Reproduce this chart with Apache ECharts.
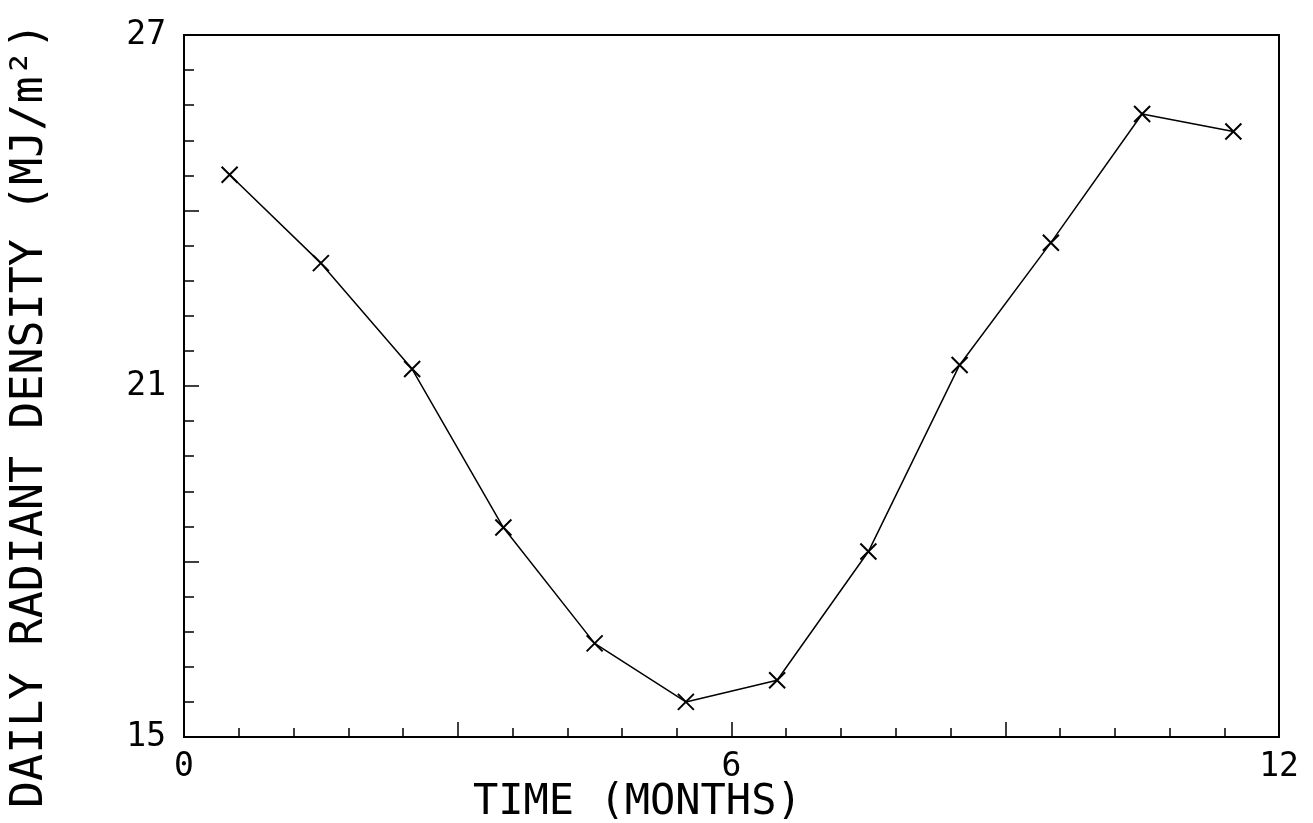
<!DOCTYPE html>
<html>
<head>
<meta charset="utf-8">
<script src="https://cdn.jsdelivr.net/npm/echarts@6/dist/echarts.min.js"></script>
<style>
html,body{margin:0;padding:0;background:#fff;}
#chart{width:1313px;height:823px;}
</style>
</head>
<body>
<div id="chart"></div>
<script>
var months = [0.5, 1.5, 2.5, 3.5, 4.5, 5.5, 6.5, 7.5, 8.5, 9.5, 10.5, 11.5];
var radiant = [24.61, 23.10, 21.29, 18.58, 16.60, 15.60, 15.97, 18.17, 21.36, 23.45, 25.65, 25.35];
var xLabels = [0, 6, 12];
var yLabels = [15, 21, 27];
var xTitle = 'TIME (MONTHS)';
var yTitle = 'DAILY RADIANT DENSITY (MJ/m²)';

var FONT = 'DejaVu Sans Mono';
var chart = echarts.init(document.getElementById('chart'), null, {renderer: 'canvas'});
var pts = months.map(function (m, i) { return [m, radiant[i]]; });

chart.setOption({
  animation: false,
  backgroundColor: '#ffffff',
  grid: {left: 184, right: 34, top: 35, bottom: 86, show: true, borderColor: '#000', borderWidth: 2, backgroundColor: 'transparent'},
  xAxis: {
    type: 'value', min: 0, max: 12, interval: 3,
    axisLine: {show: true, onZero: false, lineStyle: {color: '#000', width: 2}},
    axisTick: {show: true, inside: true, length: 15, lineStyle: {color: '#000', width: 1.5}},
    minorTick: {show: true, splitNumber: 5, length: 9, lineStyle: {color: '#000', width: 1.5}},
    splitLine: {show: false},
    axisLabel: {
      show: true, margin: 14, color: '#000', fontFamily: FONT, fontSize: 33,
      formatter: function (v) { return xLabels.indexOf(v) >= 0 ? String(v) : ''; }
    }
  },
  yAxis: {
    type: 'value', min: 15, max: 27, interval: 3,
    axisLine: {show: true, onZero: false, lineStyle: {color: '#000', width: 2}},
    axisTick: {show: true, inside: true, length: 15, lineStyle: {color: '#000', width: 1.5}},
    minorTick: {show: true, splitNumber: 5, length: 10, lineStyle: {color: '#000', width: 1.5}},
    splitLine: {show: false},
    axisLabel: {
      show: true, margin: 18, color: '#000', fontFamily: FONT, fontSize: 33,
      formatter: function (v) { return yLabels.indexOf(v) >= 0 ? String(v) : ''; }
    }
  },
  graphic: [
    {type: 'text', left: 473, top: 782, style: {text: xTitle, fill: '#000', font: '42px "' + FONT + '"'}},
    {type: 'text', x: 8, y: 808, rotation: Math.PI / 2, style: {text: yTitle, fill: '#000', font: '45px "' + FONT + '"', textVerticalAlign: 'top'}}
  ],
  series: [{
    type: 'line',
    data: pts,
    symbol: 'path://M0,0L10,10M10,0L0,10',
    symbolSize: 16,
    showSymbol: true,
    lineStyle: {color: '#000', width: 1.5},
    itemStyle: {color: 'rgba(0,0,0,0)', borderColor: '#000', borderWidth: 2}
  }]
});
</script>
</body>
</html>
